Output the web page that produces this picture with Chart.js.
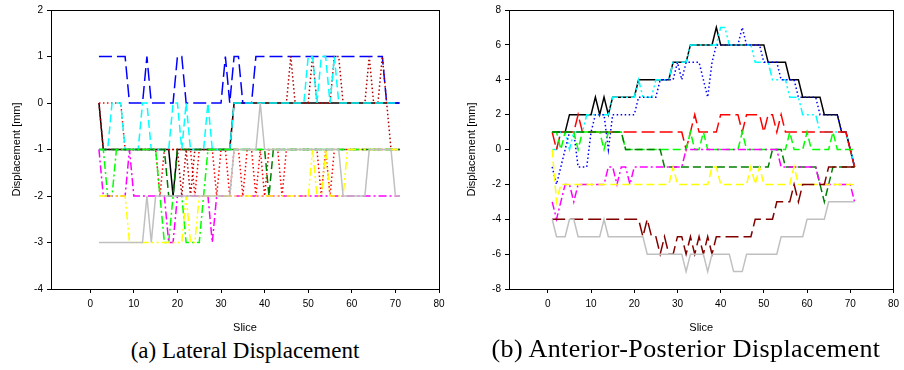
<!DOCTYPE html>
<html>
<head>
<meta charset="utf-8">
<script src="https://cdn.jsdelivr.net/npm/chart.js@4.4.0/dist/chart.umd.min.js"></script>
<style>
  body { margin: 0; background: #fff; width: 904px; height: 370px; overflow: hidden; position: relative; }
  .box { position: absolute; top: 0; height: 338px; }
  #boxA { left: 0; width: 450px; }
  #boxB { left: 455px; width: 449px; }
  .cap { position: absolute; font-family: "Liberation Serif", "Times New Roman", serif; text-align: center; white-space: nowrap; color: #000; }
  #capA { left: 0; width: 490px; top: 339px; font-size: 23px; line-height: 23px; }
  #capB { left: 436px; width: 500px; top: 336px; font-size: 26px; line-height: 26px; letter-spacing: 0.4px; }
</style>
</head>
<body>
<div class="box" id="boxA"><canvas id="chartA"></canvas></div>
<div class="box" id="boxB"><canvas id="chartB"></canvas></div>
<div class="cap" id="capA">(a) Lateral Displacement</div>
<div class="cap" id="capB">(b) Anterior-Posterior Displacement</div>
<script>
// (a) lateral, slices 2..71
const slicesA = [2,3,4,5,6,7,8,9,10,11, 12,13,14,15,16,17,18,19,20,21, 22,23,24,25,26,27,28,29,30,31,
  32,33,34,35,36,37,38,39,40,41, 42,43,44,45,46,47,48,49,50,51, 52,53,54,55,56,57,58,59,60,61, 62,63,64,65,66,67,68,69,70,71];

const latBlack = [0,-1,-1,-1,-1,-1,-1,-1,-1,-1, -1,-1,-1,-1,-1,-1,-1,-2,-1,-1, -1,-1,-1,-1,-1,-1,-1,-1,-1,-1,
  -1,0,0,0,0,0,0,0,0,0, 0,0,0,0,0,0,0,0,0,0, 0,0,0,0,0,0,0,0,0,0, 0,0,0,0,0,0,0,0,0,0];
const latBlue = [1,1,1,1,1,1,1,0,0,0, 0,1,0,0,0,0,0,0,1,1, 0,0,0,0,0,0,0,0,0,1,
  0,1,1,0,0,0,1,1,1,1, 1,1,1,1,1,1,1,1,1,1, 1,1,1,1,1,1,1,1,1,1, 1,1,1,1,1,1,0,0,0,0];
const latCyan = [-1,-1,-1,0,0,0,-1,-1,-1,-1, 0,0,-1,-1,-1,-1,-1,0,0,-1, 0,-1,-1,-1,-1,0,-1,-1,-1,-1,
  -1,0,0,0,0,0,0,0,0,0, 0,0,0,0,0,0,0,0,1,1, 0,1,1,0,1,0,0,0,0,0, 0,0,0,0,0,0,0,0,0,0];
const latRed = [0,0,0,0,0,0,-1,-1,-1,-1, -1,-1,-1,-1,-2,-1,-1,-1,-1,-1, -1,-1,-2,-1,-1,-1,-1,-2,-1,-1,
  -2,-1,-1,-2,-1,-1,-2,-1,-2,-1, -1,-1,-2,-1,-1,-1,-1,-1,-1,-1, -1,-2,-1,-2,-1,-1,-1,-1,-1,-1, -1,-1,-1,-1,-1,-1,-1,-1,-1,-1];
const latDarkRed = [0,-1,-1,-1,-1,-1,-1,-1,-1,-1, -1,-1,-1,-1,-1,-1,-1,-1,-1,-2, -1,-2,-1,-1,-1,-1,-1,-1,-1,-1,
  -1,0,0,0,0,0,0,0,0,0, 0,0,0,0,1,0,0,0,0,1, 0,0,0,0,1,1,0,0,0,0, 0,0,1,0,0,1,0,-1,-1,-1];
const latGreen = [-1,-1,-2,-2,-1,-1,-1,-1,-1,-1, -1,-1,-1,-1,-2,-3,-3,-2,-2,-2, -3,-3,-3,-3,-2,-1,-1,-1,-1,-1,
  -1,-1,-1,-1,-1,-1,-1,-1,-1,-1, -1,-1,-1,-1,-1,-1,-1,-1,-1,-1, -1,-1,-1,-1,-1,-1,-1,-1,-1,-1, -1,-1,-1,-1,-1,-1,-1,-1,-1,-1];
const latDarkGreen = [-1,-1,-1,-1,-1,-1,-1,-1,-1,-1, -1,-1,-1,-1,-1,-1,-2,-2,-1,-1, -1,-1,-1,-1,-1,-1,-1,-1,-1,-1,
  -1,-1,-1,-1,-1,-1,-1,-1,-1,-2, -1,-1,-1,-1,-1,-1,-1,-1,-1,-1, -1,-1,-1,-1,-1,-1,-1,-1,-1,-1, -1,-1,-1,-1,-1,-1,-1,-1,-1,-1];
const latYellow = [-2,-2,-2,-2,-2,-2,-2,-3,-3,-3, -3,-3,-3,-3,-3,-3,-3,-3,-3,-3, -2,-3,-3,-2,-2,-2,-2,-2,-2,-2,
  -2,-2,-2,-2,-2,-2,-2,-2,-2,-2, -2,-2,-2,-2,-2,-2,-2,-2,-2,-1, -2,-2,-1,-2,-2,-2,-2,-1,-1,-1, -1,-1,-1,-1,-1,-1,-1,-1,-1,-1];
const latMagenta = [-1,-2,-2,-2,-2,-2,-2,-1,-2,-2, -2,-2,-2,-2,-2,-2,-3,-3,-2,-2, -2,-2,-2,-2,-2,-2,-3,-2,-2,-2,
  -2,-2,-2,-2,-2,-2,-2,-2,-2,-2, -2,-2,-2,-2,-2,-2,-2,-2,-2,-2, -2,-2,-2,-2,-2,-2,-2,-2,-2,-2, -2,-2,-2,-2,-2,-2,-2,-2,-2,-2];
const latGray = [-3,-3,-3,-3,-3,-3,-3,-3,-3,-3, -3,-2,-3,-2,-2,-2,-2,-2,-2,-2, -2,-2,-2,-2,-2,-2,-2,-2,-2,-2,
  -2,-1,-1,-1,-1,-1,-1,0,-1,-1, -1,-1,-1,-1,-1,-1,-1,-1,-1,-1, -1,-1,-1,-1,-1,-1,-2,-2,-2,-2, -2,-2,-1,-1,-1,-1,-1,-1,-2,-2];

// (b) anterior-posterior, slices 1..71
const slicesB = [1,2,3,4,5,6,7,8,9,10, 11,12,13,14,15,16,17,18,19,20, 21,22,23,24,25,26,27,28,29,30,
  31,32,33,34,35,36,37,38,39,40, 41,42,43,44,45,46,47,48,49,50, 51,52,53,54,55,56,57,58,59,60, 61,62,63,64,65,66,67,68,69,70, 71];

const apBlack = [1,1,1,1,2,2,2,2,2,2, 3,2,3,2,3,3,3,3,3,3, 4,4,4,4,4,4,4,4,5,5,
  5,5,6,6,6,6,6,6,7,6, 6,6,6,6,6,6,6,6,6,6, 5,5,5,5,5,4,4,4,3,3, 3,3,3,2,2,2,2,1,1,0, -1];
const apCyan = [0,0,1,1,0,1,1,1,2,2, 2,2,2,2,3,3,3,3,3,3, 4,3,3,3,4,4,4,4,5,5,
  5,5,6,6,6,6,6,6,6,7, 7,6,6,6,6,6,6,5,5,5, 5,4,4,4,4,3,3,3,2,2, 2,2,1,1,1,1,1,1,1,0, -1];
const apBlue = [-1,-2,-1,0,1,1,-1,-1,-1,1, 2,2,2,0,2,2,2,2,2,2, 3,3,3,3,3,4,4,4,4,5,
  4,5,5,5,5,4,3,5,6,6, 6,6,6,6,7,6,6,6,6,5, 5,5,5,4,4,4,4,3,3,3, 3,3,2,2,2,2,2,1,1,0, -1];
const apRed = [1,0,1,1,1,1,2,1,1,1, 1,1,1,1,1,1,1,1,1,1, 1,1,1,1,1,1,1,1,1,1,
  1,0,1,2,1,1,1,1,1,2, 2,2,2,2,1,2,2,2,2,1, 2,2,1,2,1,1,1,1,1,1, 1,1,1,1,1,1,1,1,1,0, -1];
const apGreen = [1,1,0,1,1,1,0,1,1,1, 1,1,0,1,1,1,1,0,0,0, 0,0,0,0,0,0,0,0,0,0,
  0,0,1,0,0,1,0,0,0,0, 0,0,0,0,1,0,0,0,0,0, 0,0,0,0,0,1,0,0,0,1, 0,0,0,0,0,1,0,0,0,0, 0];
const apDarkGreen = [1,1,1,1,1,1,1,1,1,1, 1,1,1,1,1,1,1,0,0,0, 0,0,0,0,0,0,-1,-1,-1,-1,
  -1,-1,-1,-1,-1,-1,-1,-1,-1,-1, -1,-1,-1,-1,-1,-1,-1,-1,-1,-1, -1,0,0,0,-1,-1,-1,-1,-1,-1, -1,-1,-2,-3,-2,-1,-1,-1,-1,-1, -1];
const apMagenta = [-3,-4,-3,-2,-2,-3,-2,-2,-2,-2, -2,-2,-2,-1,-1,-2,-1,-1,-2,-1, -1,-1,-1,-1,-1,-1,-1,-1,-1,-1,
  -1,0,0,0,0,0,0,0,0,0, 0,0,0,0,0,0,0,0,0,0, 0,0,0,-1,-1,-1,-1,-1,-1,-1, -1,-1,-2,-2,-2,-2,-2,-2,-2,-2, -3];
const apYellow = [0,-3,-2,-2,-2,-2,-2,-2,-2,-2, -2,-2,-2,-2,-2,-2,-2,-2,-2,-2, -2,-2,-2,-2,-2,-2,-2,-2,-1,-2,
  -2,-2,-2,-2,-2,-2,-2,-1,-1,-2, -2,-2,-2,-2,-2,-2,-1,-2,-1,-2, -2,-2,-2,-2,-2,-2,-1,-2,-2,-2, -2,-2,-2,-2,-2,-2,-2,-2,-2,-2, -2];
const apDarkRed = [-4,-4,-4,-4,-4,-4,-4,-4,-4,-4, -4,-4,-4,-4,-4,-4,-4,-4,-4,-4, -4,-5,-4,-5,-5,-6,-5,-6,-6,-5,
  -5,-6,-5,-6,-5,-6,-5,-6,-5,-5, -5,-5,-5,-5,-5,-5,-5,-4,-4,-4, -4,-4,-3,-3,-3,-3,-2,-3,-2,-2, -2,-2,-2,-2,-1,-1,-1,-1,-1,-1, -1];
const apGray = [-4,-5,-5,-5,-4,-4,-5,-5,-5,-5, -5,-5,-4,-5,-5,-5,-5,-5,-5,-5, -5,-5,-6,-6,-6,-6,-6,-6,-6,-6,
  -6,-7,-6,-6,-6,-6,-7,-6,-6,-6, -6,-6,-7,-7,-7,-6,-6,-6,-6,-6, -6,-6,-6,-5,-5,-5,-5,-5,-5,-4, -4,-4,-4,-4,-3,-3,-3,-3,-3,-3, -3];

const xTicks = [0, 10, 20, 30, 40, 50, 60, 70, 80];

// line styles
const SOLID = [];
const LONG_DASH = [13, 5];
const DASH = [8, 4];
const DOT = [1.5, 2.5];
const DASH_DOT = [8, 3, 2, 3];
const DASH_DOT_DOT = [8, 3, 2, 3, 2, 3];

function serie(label, slices, values, color, dash) {
  return {
    label,
    data: slices.map((s, i) => ({ x: s, y: values[i] })),
    borderColor: color,
    borderDash: dash,
    borderWidth: 1.5,
    pointRadius: 0,
    tension: 0,
    fill: false
  };
}

const framePlugin = {
  id: 'frame',
  afterDraw(chart) {
    const { ctx, chartArea: a } = chart;
    ctx.save();
    ctx.strokeStyle = '#000';
    ctx.lineWidth = 1;
    ctx.strokeRect(Math.round(a.left) + 0.5, Math.round(a.top) + 0.5, Math.round(a.right - a.left), Math.round(a.bottom - a.top));
    ctx.restore();
  }
};

function options(yMin, yMax, yStep, yWidth, padRight) {
  const tickFont = { family: 'Liberation Sans, Arial, sans-serif', size: 10 };
  const titleFont = { family: 'Liberation Sans, Arial, sans-serif', size: 11 };
  return {
    responsive: true,
    maintainAspectRatio: false,
    animation: false,
    layout: { padding: { top: 10, right: padRight, left: 0, bottom: 0 } },
    plugins: { legend: { display: false }, tooltip: { enabled: false } },
    scales: {
      x: {
        type: 'linear',
        min: -9, max: 80,
        afterBuildTicks: (scale) => { scale.ticks = xTicks.map(v => ({ value: v })); },
        afterFit: (scale) => { scale.height = 49; },
        grid: { drawOnChartArea: false, drawTicks: true, tickLength: 4, color: '#000' },
        border: { display: true, color: '#000' },
        ticks: { font: tickFont, color: '#000', padding: 5, maxRotation: 0 },
        title: { display: true, text: 'Slice', font: titleFont, color: '#000', padding: { top: 4, bottom: 3 } }
      },
      y: {
        min: yMin, max: yMax,
        ticks: { stepSize: yStep, font: tickFont, color: '#000', padding: 4 },
        afterFit: (scale) => { scale.width = yWidth; },
        grid: { drawOnChartArea: false, drawTicks: true, tickLength: 4, color: '#000' },
        border: { display: true, color: '#000' },
        title: { display: true, text: 'Displacement [mm]', font: titleFont, color: '#000', padding: { top: 10, bottom: 2 } }
      }
    }
  };
}

new Chart(document.getElementById('chartA').getContext('2d'), {
  type: 'line',
  data: {
    datasets: [
      serie('gray', slicesA, latGray, '#c0c0c0', SOLID),
      serie('yellow', slicesA, latYellow, '#ffff00', DASH_DOT_DOT),
      serie('magenta', slicesA, latMagenta, '#ff00ff', DASH_DOT),
      serie('green', slicesA, latGreen, '#00ff00', DASH_DOT),
      serie('darkgreen', slicesA, latDarkGreen, '#008000', DASH),
      serie('cyan', slicesA, latCyan, '#00ffff', DASH),
      serie('darkred', slicesA, latDarkRed, '#b00000', DOT),
      serie('red', slicesA, latRed, '#ff0000', DOT),
      serie('blue', slicesA, latBlue, '#0000ff', LONG_DASH),
      serie('black', slicesA, latBlack, '#000000', SOLID)
    ]
  },
  options: options(-4, 2, 1, 51, 11),
  plugins: [framePlugin]
});

new Chart(document.getElementById('chartB').getContext('2d'), {
  type: 'line',
  data: {
    datasets: [
      serie('gray', slicesB, apGray, '#c0c0c0', SOLID),
      serie('darkred', slicesB, apDarkRed, '#800000', LONG_DASH),
      serie('yellow', slicesB, apYellow, '#ffff00', DASH),
      serie('magenta', slicesB, apMagenta, '#ff00ff', DASH_DOT),
      serie('darkgreen', slicesB, apDarkGreen, '#008000', DASH),
      serie('green', slicesB, apGreen, '#00ff00', DASH),
      serie('red', slicesB, apRed, '#ff0000', LONG_DASH),
      serie('blue', slicesB, apBlue, '#0000ff', DOT),
      serie('cyan', slicesB, apCyan, '#00ffff', DASH_DOT_DOT),
      serie('black', slicesB, apBlack, '#000000', SOLID)
    ]
  },
  options: options(-8, 8, 2, 54, 7),
  plugins: [framePlugin]
});
</script>
</body>
</html>
